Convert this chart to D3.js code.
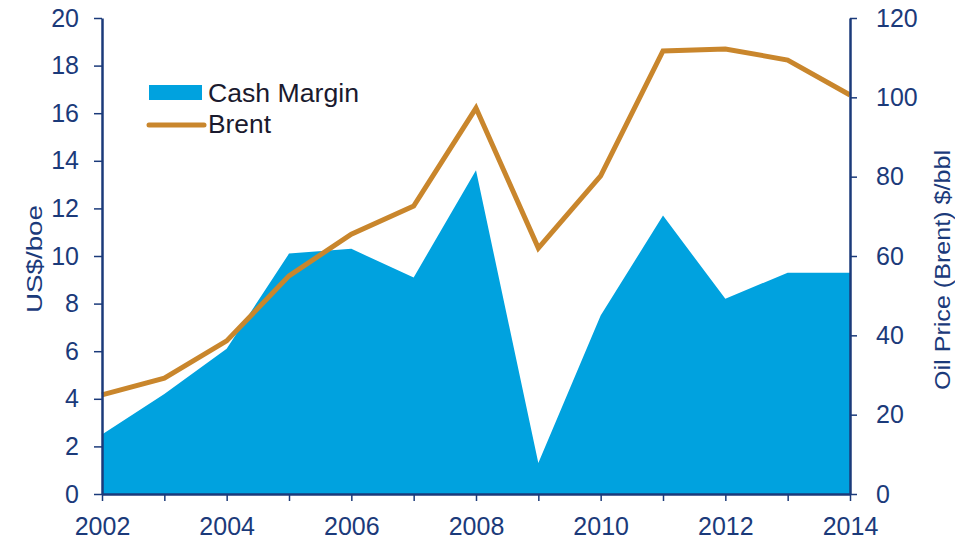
<!DOCTYPE html>
<html><head><meta charset="utf-8">
<script src="https://cdn.jsdelivr.net/npm/d3@7"></script>
<style>body{margin:0;background:#fff}svg{display:block}text{font-family:"Liberation Sans",Arial,sans-serif}</style>
</head><body>
<script>
const years = [2002,2003,2004,2005,2006,2007,2008,2009,2010,2011,2012,2013,2014];
const cashMargin = [2.5,4.2,6.1,10.1,10.3,9.1,13.6,1.3,7.5,11.7,8.2,9.3,9.3];
const brent = [25.0,29.2,38.6,55.0,65.5,72.6,97.3,62.0,80.2,111.7,112.2,109.4,100.6];
const leftTicks = [0,2,4,6,8,10,12,14,16,18,20];
const rightTicks = [0,20,40,60,80,100,120];
const xLabelYears = [2002,2004,2006,2008,2010,2012,2014];

const W=955,H=539;
const navy="#1b3a7a", blue="#00a2df", brown="#c9862c";
const svg=d3.select("body").append("svg").attr("width",W).attr("height",H);
const x=d3.scaleLinear().domain([2002,2014]).range([102,850]);
const yL=d3.scaleLinear().domain([0,20]).range([494,18]);
const yR=d3.scaleLinear().domain([0,120]).range([494,18]);

svg.append("path").datum(years.map((y,i)=>[y,cashMargin[i]]))
  .attr("d",d3.area().x(d=>x(d[0])).y0(yL(0)).y1(d=>yL(d[1])))
  .attr("fill",blue);
svg.append("path").datum(years.map((y,i)=>[y,brent[i]]))
  .attr("d",d3.line().x(d=>x(d[0])).y(d=>yR(d[1])))
  .attr("fill","none").attr("stroke",brown).attr("stroke-width",5).attr("stroke-linejoin","miter");

function style(g){
  g.selectAll(".domain").attr("stroke",navy).attr("stroke-width",2.5);
  g.selectAll(".tick line").attr("stroke",navy).attr("stroke-width",1.5);
  g.selectAll(".tick text").attr("fill",navy).attr("font-size",25);
}
const gL=svg.append("g").attr("transform","translate(102,0)")
  .call(d3.axisLeft(yL).tickValues(leftTicks).tickSize(8).tickSizeOuter(0).tickPadding(15));
style(gL);
const gR=svg.append("g").attr("transform","translate(850,0)")
  .call(d3.axisRight(yR).tickValues(rightTicks).tickSize(7).tickSizeOuter(0).tickPadding(19));
style(gR);
const gX=svg.append("g").attr("transform","translate(0,494)")
  .call(d3.axisBottom(x).tickValues(years).tickSize(7).tickSizeOuter(0).tickPadding(16)
    .tickFormat(d=>xLabelYears.includes(d)?String(d):""));
style(gX);

svg.append("text").attr("transform","translate(42,259) rotate(-90)").attr("text-anchor","middle")
  .attr("fill",navy).attr("font-size",22).attr("textLength",108).attr("lengthAdjust","spacingAndGlyphs").text("US$/boe");
svg.append("text").attr("transform","translate(950,270) rotate(-90)").attr("text-anchor","middle")
  .attr("fill",navy).attr("font-size",22).attr("textLength",240).attr("lengthAdjust","spacingAndGlyphs").text("Oil Price (Brent)  $/bbl");

// legend
svg.append("rect").attr("x",149).attr("y",85).attr("width",53).attr("height",15).attr("fill",blue);
svg.append("text").attr("x",208).attr("y",102).attr("font-size",25).attr("fill","#1a1a2e")
  .attr("textLength",151).attr("lengthAdjust","spacingAndGlyphs").text("Cash Margin");
svg.append("line").attr("x1",149).attr("x2",204).attr("y1",125).attr("y2",125)
  .attr("stroke",brown).attr("stroke-width",5).attr("stroke-linecap","round");
svg.append("text").attr("x",208).attr("y",133).attr("font-size",25).attr("fill","#1a1a2e")
  .attr("textLength",63).attr("lengthAdjust","spacingAndGlyphs").text("Brent");
</script>
</body></html>
